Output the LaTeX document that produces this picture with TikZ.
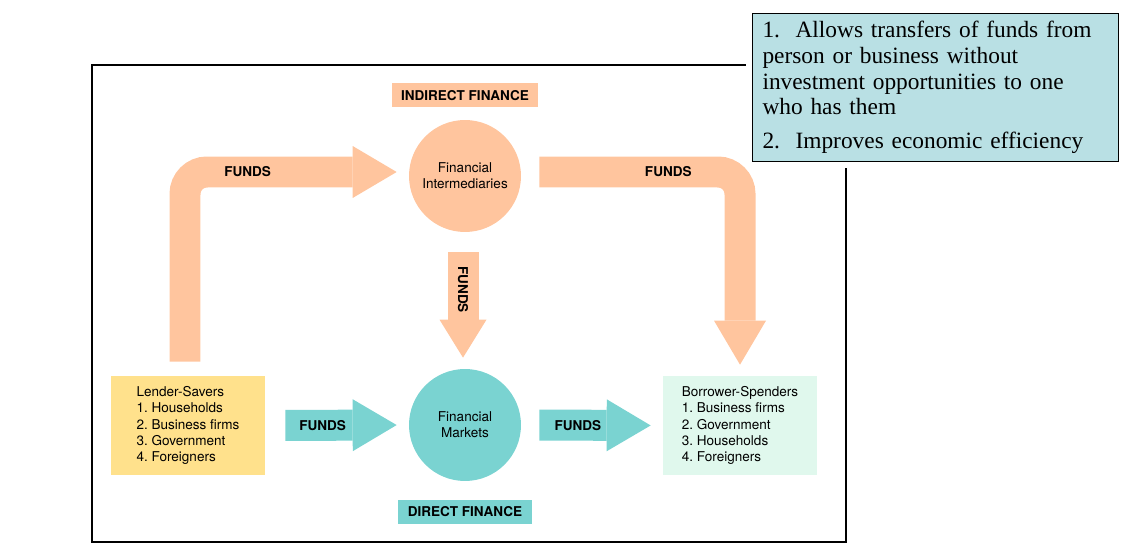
\documentclass[tikz,border=0pt]{standalone}
\usepackage{fontspec}
\setsansfont{TeX Gyre Heros}
\newfontfamily\notefont{Liberation Serif}
\frenchspacing
\usetikzlibrary{arrows.meta, positioning}
\definecolor{peach}{RGB}{255,197,158}
\definecolor{teal}{RGB}{122,211,209}
\definecolor{sand}{RGB}{255,225,140}
\definecolor{mint}{RGB}{224,248,237}
\definecolor{notebg}{RGB}{185,224,228}
\tikzset{
x=0.02cm, y=-0.02cm, % one unit is one pixel of the picture, y down
every node/.style={font=\sffamily\fontsize{7.7}{9.25}\selectfont},
bank/.style={circle, minimum size=2.24cm, inner sep=0pt, align=center}, % the two round institutions
party/.style={minimum width=3.08cm, minimum height=1.98cm, align=left},
tag/.style={minimum height=0.48cm, inner sep=0pt, font=\sffamily\bfseries\fontsize{7.7}{9.25}\selectfont},
funds/.style={font=\sffamily\bfseries\fontsize{7.7}{9.25}\selectfont, text=black},
pipe/.style={line width=0.62cm, rounded corners=0.44cm,
  -{Triangle[length=0.88cm, width=1.04cm, line width=0pt]}}, % fat arrow
}
\begin{document}
\begin{tikzpicture}
    \useasboundingbox (0,0) rectangle (1126,560);
    \draw[line width=0.04cm] (92,65) rectangle (846,542);
    \node[draw, line width=0.02cm, fill=notebg, anchor=north west,
      text width=6.92cm, inner xsep=0.2cm, minimum height=2.96cm,
      preaction={draw=white, line width=0.26cm},
      font=\notefont\fontsize{13.3}{14.6}\selectfont, align=left] (note) at (752,13)
      {1.\ \ Allows transfers of funds from\\person or business without\\investment opportunities to one\\who has them\\[4.7pt]2.\ \ Improves economic efficiency};
    \node[bank, fill=peach] (fi) at (465,176) {Financial\\Intermediaries};
    \node[bank, fill=teal] (fm) at (465,425) {Financial\\Markets};
    \node[tag, fill=peach, minimum width=2.92cm, above=0.24cm of fi] (indirect) {INDIRECT FINANCE};
    \node[tag, fill=teal, minimum width=2.7cm, below=0.36cm of fm] (direct) {DIRECT FINANCE};
    \node[party, fill=sand] (ls) at (188,425.5)
      {Lender-Savers\\1. Households\\2. Business firms\\3. Government\\4. Foreigners};
    \node[party, fill=mint] (bs) at (740,425.5)
      {Borrower-Spenders\\1. Business firms\\2. Government\\3. Households\\4. Foreigners};
    % indirect route
    \draw[pipe, peach, shorten <=0.28cm, shorten >=0.24cm] ([xshift=-0.06cm]ls.north) |- ([yshift=0.08cm]fi.west)
      node[funds, pos=0.64] {FUNDS};
    \draw[pipe, peach, shorten <=0.36cm, shorten >=0.22cm] ([yshift=0.08cm]fi.east) -| (bs.north)
      node[funds, pos=0.336] {FUNDS};
    \draw[pipe, peach, shorten <=0.4cm, shorten >=0.22cm, -{Triangle[length=0.76cm, width=0.94cm, line width=0pt]}]
      ([xshift=-0.04cm]fi.south) -- ([xshift=-0.04cm]fm.north)
      node[funds, rotate=-90, pos=0.42] {FUNDS};
    % direct route
    \draw[pipe, teal, shorten <=0.4cm, shorten >=0.24cm] (ls.east) -- (fm.west)
      node[funds, pos=0.4] {FUNDS};
    \draw[pipe, teal, shorten <=0.36cm, shorten >=0.24cm] (fm.east) -- (bs.west)
      node[funds, pos=0.4] {FUNDS};
\end{tikzpicture}
\end{document}
